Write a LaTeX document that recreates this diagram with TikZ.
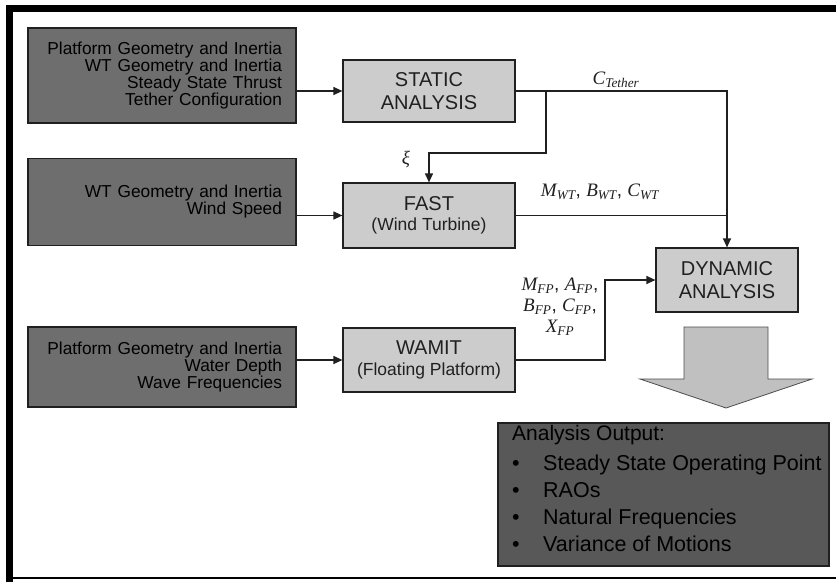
\documentclass[tikz,border=0pt]{standalone}
\usepackage{fontspec}
\setmainfont{Liberation Sans}
\newfontfamily\tms{Liberation Serif}
\usetikzlibrary{arrows.meta}

\definecolor{ink}{RGB}{32,32,32}
\definecolor{inputgray}{RGB}{110,110,110}
\definecolor{procgray}{RGB}{204,204,204}
\definecolor{outgray}{RGB}{88,88,88}
\definecolor{biggray}{RGB}{192,192,192}

% italic symbol with subscript, e.g. \sym{C}{Tether}
\newcommand{\sym}[2]{{\tms\itshape #1\textsubscript{#2}}}
% bulleted line of the result list
\newcommand{\resitem}[1]{\makebox[31pt][l]{\textbullet}#1}

\begin{document}
\begin{tikzpicture}[x=1pt,y=-1pt,
  inputbox/.style={draw=ink, line width=1.2pt, fill=inputgray, text=black,
    align=right, text width=240pt, inner xsep=14pt, inner ysep=0pt,
    font=\fontsize{17.3}{17}\selectfont},
  procbox/.style={draw=ink, line width=1.2pt, fill=procgray, text=ink,
    align=center, minimum width=172pt, inner sep=0pt,
    font=\fontsize{20}{22.5}\selectfont},
  conn/.style={draw=ink, line width=1.2pt},
  tip/.style={-{Triangle[length=9pt,width=8pt]}},
  symlabel/.style={text=ink, inner sep=0pt, font=\fontsize{19}{21}\selectfont}
]
\useasboundingbox (0,0) rectangle (836,582);
\fill[white] (0,0) rectangle (836,582);

% outer frame
\fill[black] (6,5) rectangle (836,12);
\fill[black] (6,5) rectangle (13,582);
\draw[black, line width=1.5pt] (13,578) -- (836,578);

% input boxes
\node[inputbox, minimum height=95pt] (in1) at (162,75.5)
  {Platform Geometry and Inertia\\WT Geometry and Inertia\\Steady State Thrust\\Tether Configuration};
\node[inputbox, minimum height=87pt] (in2) at (162,202)
  {WT Geometry and Inertia\\Wind Speed};
\node[inputbox, minimum height=80pt] (in3) at (162,367)
  {Platform Geometry and Inertia\\Water Depth\\Wave Frequencies};

% analysis tools
\node[procbox, minimum height=62pt] (static) at (429,91) {STATIC\\ANALYSIS};
\node[procbox, minimum height=65pt] (fast) at (429,215.5)
  {FAST\\[-2pt]{\fontsize{17.5}{20}\selectfont (Wind Turbine)}};
\node[procbox, minimum height=64pt] (wamit) at (429,360)
  {WAMIT\\[-2pt]{\fontsize{17.5}{20}\selectfont (Floating Platform)}};
\node[procbox, minimum width=142pt, minimum height=64pt] (dyn) at (727,280)
  {DYNAMIC\\ANALYSIS};

% output arrow and result box
\filldraw[fill=biggray, draw=ink!80, line width=0.8pt]
  (684,327) -- (768,327) -- (768,379) -- (812,379) -- (726,408)
  -- (640,379) -- (684,379) -- cycle;
\node[draw=ink, line width=1.2pt, fill=outgray, minimum width=331pt,
  minimum height=143pt, inner sep=0pt] (out) at (663.5,494.5) {};
\node[anchor=north west, align=left, inner sep=0pt, text=black,
  font=\fontsize{21.5}{27}\selectfont] (outtxt) at (512,425)
  {{\fontsize{21}{27}\selectfont Analysis Output:}\\[3pt]
   \resitem{Steady State Operating Point}\\
   \resitem{RAOs}\\
   \resitem{Natural Frequencies}\\
   \resitem{Variance of Motions}};

% connectors
\coordinate (ct) at (dyn.north |- static.east);
\coordinate (xi) at (546,91);
\coordinate (fpx) at (605,0);

\draw[conn, tip] (in1.east |- static.west) -- (static.west);
\draw[conn, tip] (in2.east |- fast.west) -- (fast.west);
\draw[conn, tip] (in3.east |- wamit.west) -- (wamit.west);

\draw[conn, tip] (static.east) -- (ct) -- (dyn.north);
\draw[conn, tip] (xi) -- ++(0,62) -| (fast.north);
\draw[conn] (fast.east) -- (fast.east -| ct);
\draw[conn, tip] (wamit.east) -- (wamit.east -| fpx) |- (dyn.west);

% connector labels
\node[symlabel] (lct) at (616,80) {\sym{C}{Tether}};
\node[symlabel] (lxi) at (406,160) {{\tms\itshape ξ}};
\node[symlabel] (lwt) at (600,192) {\sym{M}{WT}, \sym{B}{WT}, \sym{C}{WT}};
\node[symlabel, align=center] (lfp) at (560,307)
  {\sym{M}{FP}, \sym{A}{FP},\\\sym{B}{FP}, \sym{C}{FP},\\\sym{X}{FP}};
\end{tikzpicture}
\end{document}
